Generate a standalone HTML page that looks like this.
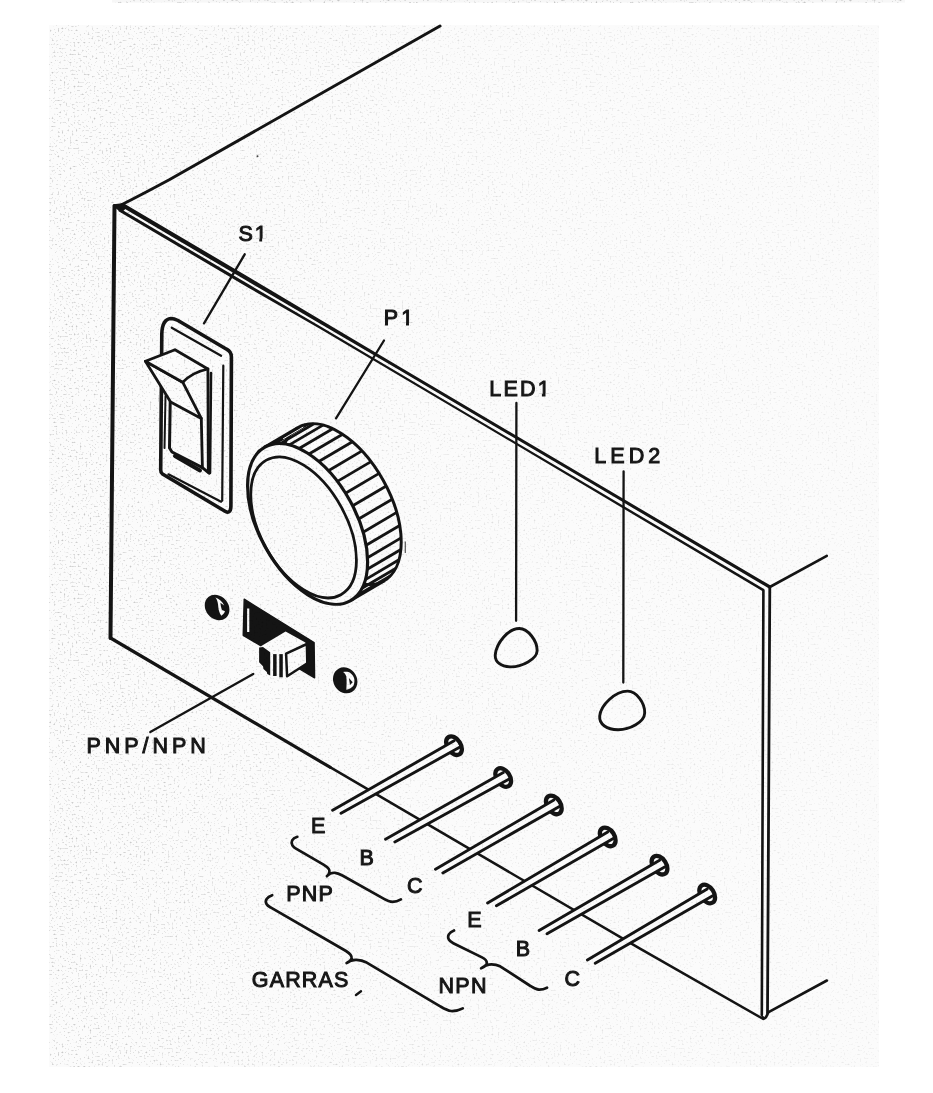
<!DOCTYPE html>
<html><head><meta charset="utf-8"><title>Diagram</title>
<style>
html,body{margin:0;padding:0;background:#fff}
body{width:933px;height:1093px;overflow:hidden}
svg{display:block}
text{font-family:"Liberation Sans",sans-serif;font-weight:normal}
</style></head><body>
<svg width="933" height="1093" viewBox="0 0 933 1093">
<defs><filter id="nz" x="0" y="0" width="100%" height="100%" color-interpolation-filters="sRGB"><feTurbulence type="fractalNoise" baseFrequency="0.5" numOctaves="3" seed="11"/><feColorMatrix type="matrix" values="0 0 0 0 0  0 0 0 0 0  0 0 0 0 0  3.0 0 0 0 -1.78"/></filter><linearGradient id="fade" x1="0" x2="1" y1="0" y2="0"><stop offset="0" stop-color="#fff"/><stop offset="0.45" stop-color="#888"/><stop offset="1" stop-color="#555"/></linearGradient><mask id="mk" maskUnits="userSpaceOnUse" x="49" y="25" width="830" height="1042"><rect x="49" y="25" width="830" height="1042" fill="url(#fade)"/></mask></defs>
<rect x="0" y="0" width="933" height="1093" fill="#ffffff"/>
<rect x="49" y="25" width="830" height="1042" fill="#fbfbfb"/>
<g fill="none" stroke="#141414" stroke-linejoin="round" stroke-linecap="round">
<path d="M122,204.5 Q140,195.5 169.7,179.5 L440,26" stroke-width="3"/>
<path d="M114.5,206 L110.5,638" stroke-width="4"/>
<path d="M114,205.5 L122,204.5 L125.7,206.8 L121.4,211 Z" fill="#141414" stroke-width="2.5"/>
<path d="M120.9,206.6 L248.9,282.1 L399.2,370.1 L599.2,488.1 L769.0,588.4 L770.6,585.6 L600.8,485.5 L400.8,367.5 L251.1,278.5 L123.1,203.0 Z" fill="#141414" stroke="none"/>
<path d="M118.2,211.1 L249.2,288.2 L319.4,328.6 L459.4,411.3 L599.4,494.3 L762.7,591.3 L764.1,589.1 L600.6,492.3 L460.6,409.5 L320.6,326.6 L250.8,285.6 L119.8,208.5 Z" fill="#141414" stroke="none"/>
<path d="M769.8,587 L767.5,1013" stroke-width="2.8"/>
<path d="M763.4,590.2 L761.8,1015" stroke-width="2.6"/>
<path d="M110.5,638 L330,767.2" stroke-width="3.2"/>
<path d="M330,767.2 L640,948.6 L763.3,1019" stroke-width="2.5"/>
<path d="M762.5,1017 Q765,1021 768,1013" stroke-width="2.6"/>
<path d="M769.8,587 L826.8,555.8" stroke-width="2.6"/>
<path d="M768.6,1012.2 L826.9,980.5" stroke-width="2.6"/>
<path d="M160.7,470 L161.8,334 C162,324 165,319 171,318.5 C174,318.5 176,319.5 178,320.5 L226.6,349.2 C230,351 231.4,353 231.4,357 L230.9,506 C230.9,511 229,513.5 225.5,511.5 L162.5,474 C161,473 160.7,472 160.7,470 Z" fill="#fbfbfb" stroke-width="3.6"/>
<path d="M171.7,327.7 L221.1,355.8" stroke-width="2.2"/>
<path d="M223.3,365.7 L222.2,500.7" stroke-width="2.2"/>
<path d="M168.4,474.3 L221.1,501.7" stroke-width="2.2"/>
<path d="M211,373 L210,473" stroke-width="2.6"/>
<path d="M165.5,396 L164.5,448" stroke-width="2"/>
<path d="M170.2,402 L169.5,448 L172,452 L202.4,467.7 L209,473.2" stroke-width="3"/>
<path d="M175,456 L200,470.5" stroke-width="4"/>
<path d="M201.3,418.4 L202.4,467.7" stroke-width="2.8"/>
<path d="M207.9,369 L208.3,471" stroke-width="2.8"/>
<path d="M145.4,361.3 L182.7,382.2 L201.3,418.4 L170.6,401.9 Z" fill="#fbfbfb" stroke-width="2.8"/>
<path d="M145.4,361.3 L175,349.7 L207.9,369 C198,371 190,375 182.7,382.2 Z" fill="#fbfbfb" stroke-width="2.8"/>
</g>
<ellipse cx="341.2" cy="504.1" rx="87.9" ry="48.3" transform="rotate(61.0 341.2 504.1)" fill="#fbfbfb" stroke="#141414" stroke-width="3"/>
<path d="M264.4,447.4 L298.0,427.6" stroke="#141414" stroke-width="3" fill="none"/>
<path d="M350.8,600.4 L384.4,580.6" stroke="#141414" stroke-width="3" fill="none"/>
<path d="M271.8,444.4 L305.4,424.6" stroke="#141414" stroke-width="2.8" fill="none"/>
<path d="M280.3,443.6 L313.9,423.8" stroke="#141414" stroke-width="2.8" fill="none"/>
<path d="M289.4,444.9 L323.0,425.1" stroke="#141414" stroke-width="2.8" fill="none"/>
<path d="M299.1,448.5 L332.7,428.7" stroke="#141414" stroke-width="2.8" fill="none"/>
<path d="M309.0,454.0 L342.6,434.2" stroke="#141414" stroke-width="2.8" fill="none"/>
<path d="M318.8,461.5 L352.4,441.7" stroke="#141414" stroke-width="2.8" fill="none"/>
<path d="M328.4,470.7 L362.0,450.9" stroke="#141414" stroke-width="2.8" fill="none"/>
<path d="M337.4,481.4 L371.0,461.6" stroke="#141414" stroke-width="2.8" fill="none"/>
<path d="M345.5,493.2 L379.1,473.4" stroke="#141414" stroke-width="2.8" fill="none"/>
<path d="M352.7,505.8 L386.3,486.0" stroke="#141414" stroke-width="2.8" fill="none"/>
<path d="M358.6,519.0 L392.2,499.2" stroke="#141414" stroke-width="2.8" fill="none"/>
<path d="M363.1,532.2 L396.7,512.4" stroke="#141414" stroke-width="2.8" fill="none"/>
<path d="M366.1,545.3 L399.7,525.5" stroke="#141414" stroke-width="2.8" fill="none"/>
<path d="M367.5,557.7 L401.1,537.9" stroke="#141414" stroke-width="2.8" fill="none"/>
<path d="M367.3,569.3 L400.9,549.5" stroke="#141414" stroke-width="2.8" fill="none"/>
<path d="M365.4,579.6 L399.0,559.8" stroke="#141414" stroke-width="2.8" fill="none"/>
<path d="M362.0,588.3 L395.6,568.5" stroke="#141414" stroke-width="2.8" fill="none"/>
<path d="M357.1,595.4 L390.7,575.6" stroke="#141414" stroke-width="2.8" fill="none"/>
<path d="M264.4,447.4 L298.0,427.6 L311.2,423.8 L277.6,443.6 Z" fill="#141414"/>
<path d="M283.1,438.9 L303.3,427.0" stroke="#fbfbfb" stroke-width="1" fill="none"/>
<ellipse cx="307.6" cy="523.9" rx="87.9" ry="48.3" transform="rotate(61.0 307.6 523.9)" fill="#fbfbfb" stroke="#141414" stroke-width="3.2"/>
<ellipse cx="303.6" cy="527.4" rx="76.9" ry="42.8" transform="rotate(61.0 303.6 527.4)" fill="none" stroke="#141414" stroke-width="2.8"/>
<path d="M244.2,599.2 L314.1,642.6 L314.6,677.8 L243.2,635.3 Z" fill="#141414" stroke="#141414" stroke-width="1.4" stroke-linejoin="round"/>
<path d="M248.2,608.5 L248.2,632" stroke="#fbfbfb" stroke-width="2.2"/>
<path d="M263,645 L285.6,631.5 L304.5,642.1 L307,644 L307.3,663.3 L287.1,676.8 L270,675.5 L259,662.5 L259,647.4 Z" fill="#fbfbfb"/>
<path d="M259.1,647.4 L263,646.9 L270.2,652.2 L270.2,675.6 L267.3,674 L266.8,672 L263.5,669.1 L263,666.2 L259.1,662.3 Z" fill="#141414"/>
<rect x="273.1" y="654.1" width="3.5" height="21.9" fill="#141414"/>
<rect x="279.3" y="654.1" width="3.5" height="23.2" fill="#141414"/>
<path d="M286.1,653.7 L306.9,644 L307.3,663.3 L287.1,676.3 Z" fill="none" stroke="#141414" stroke-width="2.5" stroke-linejoin="round"/>
<ellipse cx="217.1" cy="607.5" rx="13.6" ry="11.4" transform="rotate(50 217.1 607.5)" fill="#141414"/>
<path d="M215.4,597.4 C219,598.5 222.5,601.5 224.2,605.4 L220.4,602.8 C220.6,605 221,607.5 221.8,609.7 L225,611.3 C224.5,613 223,614.6 221.3,615.8 C219.2,612.5 218.4,609.5 218.3,607 C218.2,603.5 217.5,600 215.4,597.4 Z" fill="#fbfbfb"/>
<ellipse cx="345.2" cy="680.3" rx="13.4" ry="11.8" transform="rotate(60 345.2 680.3)" fill="#141414"/>
<path d="M343,672.1 C346,671.5 348.5,671.8 350,672.7 C352.5,674.5 354,676.8 354.3,679.1 C354.6,682 354.2,684.5 353.2,686.1 C351.5,688 349,689.3 346.3,689.8 C346.6,685 346.8,680.5 346.3,676.4 C345.6,674.5 344.5,673 343,672.1 Z" fill="#fbfbfb"/>
<path d="M348.9,678 L352.7,682.3 L350,685 Z" fill="#141414"/>
<path d="M519.3,628.5 C528,628.5 537.5,641 537.1,651 C536.8,659 522,667 510.7,666.9 C501,666.8 494.5,662 495.3,654.5 C496.5,643 508,628.5 519.3,628.5 Z" fill="#fbfbfb" stroke="#141414" stroke-width="2.9"/>
<path d="M627.6,691.1 C636.5,691 645,703 644.7,713 C644.4,722 630,729.8 617.9,729.7 C607,729.6 599,724.5 599.7,716 C600.8,705 615,691.2 627.6,691.1 Z" fill="#fbfbfb" stroke="#141414" stroke-width="2.9"/>
<path d="M244.7,254.3 L204,323.3" stroke="#141414" stroke-width="2.3" fill="none" stroke-linecap="round"/>
<path d="M384,340.5 L336,418.3" stroke="#141414" stroke-width="2.3" fill="none" stroke-linecap="round"/>
<path d="M516.4,403 L516.1,620.8" stroke="#141414" stroke-width="2.3" fill="none" stroke-linecap="round"/>
<path d="M623.6,471.3 L623.3,682.5" stroke="#141414" stroke-width="2.3" fill="none" stroke-linecap="round"/>
<path d="M253.2,673.9 L150.3,732.1" stroke="#141414" stroke-width="2.3" fill="none" stroke-linecap="round"/>
<ellipse cx="454.0" cy="745.7" rx="10.2" ry="6.7" transform="rotate(57 454.0 745.7)" fill="#fbfbfb" stroke="#141414" stroke-width="4.3"/>
<path d="M332.6,810.2 L454.1,740.8 L460.0,747.1 L341.0,813.3 Z" fill="#fbfbfb"/>
<path d="M332.6,810.2 L454.1,740.8" stroke="#141414" stroke-width="2.9" stroke-linecap="round" fill="none"/>
<path d="M341.0,813.3 L460.0,747.1" stroke="#141414" stroke-width="2.9" stroke-linecap="round" fill="none"/>
<ellipse cx="503.2" cy="777.5" rx="10.2" ry="6.7" transform="rotate(57 503.2 777.5)" fill="#fbfbfb" stroke="#141414" stroke-width="4.3"/>
<path d="M385.5,839.3 L503.3,772.6 L509.2,779.0 L394.8,841.9 Z" fill="#fbfbfb"/>
<path d="M385.5,839.3 L503.3,772.6" stroke="#141414" stroke-width="2.9" stroke-linecap="round" fill="none"/>
<path d="M394.8,841.9 L509.2,779.0" stroke="#141414" stroke-width="2.9" stroke-linecap="round" fill="none"/>
<ellipse cx="553.8" cy="804.9" rx="10.2" ry="6.7" transform="rotate(57 553.8 804.9)" fill="#fbfbfb" stroke="#141414" stroke-width="4.3"/>
<path d="M435.5,869.3 L553.9,800.0 L559.8,806.3 L442.8,872.9 Z" fill="#fbfbfb"/>
<path d="M435.5,869.3 L553.9,800.0" stroke="#141414" stroke-width="2.9" stroke-linecap="round" fill="none"/>
<path d="M442.8,872.9 L559.8,806.3" stroke="#141414" stroke-width="2.9" stroke-linecap="round" fill="none"/>
<ellipse cx="607.7" cy="836.9" rx="10.2" ry="6.7" transform="rotate(57 607.7 836.9)" fill="#fbfbfb" stroke="#141414" stroke-width="4.3"/>
<path d="M487.6,903.0 L607.7,832.0 L613.7,838.3 L496.4,905.8 Z" fill="#fbfbfb"/>
<path d="M487.6,903.0 L607.7,832.0" stroke="#141414" stroke-width="2.9" stroke-linecap="round" fill="none"/>
<path d="M496.4,905.8 L613.7,838.3" stroke="#141414" stroke-width="2.9" stroke-linecap="round" fill="none"/>
<ellipse cx="659.5" cy="865.2" rx="10.2" ry="6.7" transform="rotate(57 659.5 865.2)" fill="#fbfbfb" stroke="#141414" stroke-width="4.3"/>
<path d="M539.1,930.5 L659.6,860.3 L665.5,866.6 L547.0,933.8 Z" fill="#fbfbfb"/>
<path d="M539.1,930.5 L659.6,860.3" stroke="#141414" stroke-width="2.9" stroke-linecap="round" fill="none"/>
<path d="M547.0,933.8 L665.5,866.6" stroke="#141414" stroke-width="2.9" stroke-linecap="round" fill="none"/>
<ellipse cx="707.2" cy="894.0" rx="10.2" ry="6.7" transform="rotate(57 707.2 894.0)" fill="#fbfbfb" stroke="#141414" stroke-width="4.3"/>
<path d="M587.4,959.9 L707.2,889.1 L713.2,895.4 L595.2,963.3 Z" fill="#fbfbfb"/>
<path d="M587.4,959.9 L707.2,889.1" stroke="#141414" stroke-width="2.9" stroke-linecap="round" fill="none"/>
<path d="M595.2,963.3 L713.2,895.4" stroke="#141414" stroke-width="2.9" stroke-linecap="round" fill="none"/>
<path d="M297.3,836.8 C292,838.5 290.5,842 292.5,845.5 C293.5,847 294.5,847.8 296,848.7 L323.5,864.6 C328,867.2 330,869.5 329.4,872 C329,874 328,875.3 326.9,876.2 C329,873.8 332,872.6 335,872.8 C338,873 340,874.2 342.4,875.5 L383.1,898.4 C387,900.6 389,901.8 392.5,901.8 C396,901.8 398.5,900.8 400.9,899.4" fill="none" stroke="#141414" stroke-width="2.7" stroke-linecap="round" stroke-linejoin="round"/>
<path d="M272.2,895.2 C267,897 264.5,900.5 266.5,904 C267.5,905.8 269,906.5 271,907.7 L346,951 C350,953.5 352.3,955.5 351.6,958.5 C351,960.5 349,962 346.6,963 C349.5,960.8 353,959.6 356.5,959.8 C360,960 363,960.6 365.9,962.2 L439.8,1006.1 C444,1008.6 447,1010.6 451,1011 C455.5,1011.2 459.5,1010.2 462.8,1008.4" fill="none" stroke="#141414" stroke-width="2.7" stroke-linecap="round" stroke-linejoin="round"/>
<path d="M454,930.5 C449,932.5 447,936 448.8,939.5 C449.8,941.2 451,942 453.3,943.2 L482,957.4 C486,959.5 487.5,961.5 486.5,964 C485.6,966 483.5,967.4 481.1,968.3 C484,966 487.5,964.3 491.5,964.3 C495,964.3 497.5,965 500.1,966.3 L529.7,985.5 C533,987.5 535.5,989.4 538.8,989.7 C542,989.8 544.5,989 547,987.7" fill="none" stroke="#141414" stroke-width="2.7" stroke-linecap="round" stroke-linejoin="round"/>
<path d="M356,995 L361,991.3" stroke="#141414" stroke-width="2.4" fill="none" stroke-linecap="round"/>
<path d="M405.3,541.5 L405.3,553" stroke="#555" stroke-width="1.2" fill="none"/>
<rect x="112" y="0" width="793" height="2.6" fill="#f7f7f7"/>
<circle cx="257.5" cy="156.3" r="1" fill="#444"/>
<g opacity="0.99">
<text x="238.5" y="241.0" font-size="21.5" textLength="28.3" lengthAdjust="spacing" fill="#141414" stroke="#141414" stroke-width="1.0">S1</text>
<text x="383.7" y="324.5" font-size="21.5" textLength="29.6" lengthAdjust="spacing" fill="#141414" stroke="#141414" stroke-width="1.0">P1</text>
<text x="489.3" y="395.6" font-size="21.5" textLength="60.5" lengthAdjust="spacing" fill="#141414" stroke="#141414" stroke-width="1.0">LED1</text>
<text x="594.3" y="463" font-size="21.5" textLength="66" lengthAdjust="spacing" fill="#141414" stroke="#141414" stroke-width="1.0">LED2</text>
<text x="86.5" y="753" font-size="21.5" textLength="119.3" lengthAdjust="spacing" fill="#141414" stroke="#141414" stroke-width="1.0">PNP/NPN</text>
<text x="311" y="833.4" font-size="21.5" textLength="15" lengthAdjust="spacing" fill="#141414" stroke="#141414" stroke-width="1.0">E</text>
<text x="359.5" y="865.2" font-size="21.5" textLength="15" lengthAdjust="spacing" fill="#141414" stroke="#141414" stroke-width="1.0">B</text>
<text x="407" y="893.0" font-size="21.5" textLength="15" lengthAdjust="spacing" fill="#141414" stroke="#141414" stroke-width="1.0">C</text>
<text x="286.3" y="901.0" font-size="21.5" textLength="46.5" lengthAdjust="spacing" fill="#141414" stroke="#141414" stroke-width="1.0">PNP</text>
<text x="467.3" y="926.6" font-size="21.5" textLength="15" lengthAdjust="spacing" fill="#141414" stroke="#141414" stroke-width="1.0">E</text>
<text x="515.8" y="956.2" font-size="21.5" textLength="15" lengthAdjust="spacing" fill="#141414" stroke="#141414" stroke-width="1.0">B</text>
<text x="564.6" y="985.8" font-size="21.5" textLength="15" lengthAdjust="spacing" fill="#141414" stroke="#141414" stroke-width="1.0">C</text>
<text x="438.5" y="992.5" font-size="21.5" textLength="48" lengthAdjust="spacing" fill="#141414" stroke="#141414" stroke-width="1.0">NPN</text>
<text x="251.8" y="987.3" font-size="21.5" textLength="96.5" lengthAdjust="spacing" fill="#141414" stroke="#141414" stroke-width="1.0">GARRAS</text>
<rect x="254.3" y="238.5" width="5.0" height="3.7" fill="#fbfbfb"/>
<rect x="262.1" y="238.5" width="4.9" height="3.7" fill="#fbfbfb"/>
<rect x="401.3" y="322.5" width="4.7" height="3.7" fill="#fbfbfb"/>
<rect x="409.0" y="322.5" width="4.8" height="3.7" fill="#fbfbfb"/>
<rect x="538.3" y="393.5" width="3.6" height="3.7" fill="#fbfbfb"/>
<rect x="545.5" y="393.5" width="4.3" height="3.7" fill="#fbfbfb"/>
</g>
<rect x="112" y="0" width="793" height="3" fill="#000" filter="url(#nz)" opacity="0.3"/>
<g mask="url(#mk)"><rect x="49" y="25" width="830" height="1042" fill="#000" filter="url(#nz)" opacity="0.3"/></g>
</svg>
</body></html>
